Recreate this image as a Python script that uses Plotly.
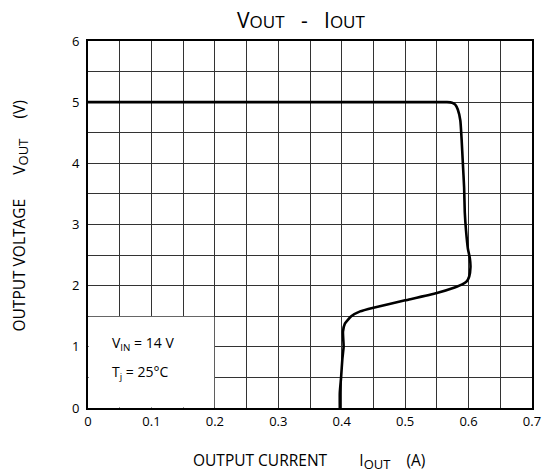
import plotly.graph_objects as go

# Curve data
iout = [0.0, 0.30, 0.55, 0.566, 0.574, 0.579, 0.583, 0.587, 0.589, 0.591, 0.593, 0.594, 0.596,
        0.599, 0.602, 0.603, 0.601, 0.597, 0.590, 0.578, 0.55, 0.50, 0.45, 0.429, 0.415,
        0.405, 0.402, 0.403, 0.401, 0.399, 0.397, 0.397]
vout = [5.0, 5.0, 5.0, 5.0, 4.99, 4.96, 4.88, 4.7, 4.4, 4.0, 3.6, 3.2, 2.9,
        2.6, 2.45, 2.3, 2.15, 2.07, 2.02, 1.97, 1.88, 1.76, 1.64, 1.58, 1.5,
        1.38, 1.25, 1.0, 0.8, 0.5, 0.25, 0.0]

x_ticks = [0, 0.1, 0.2, 0.3, 0.4, 0.5, 0.6, 0.7]
x_labels = ["0", "0.1", "0.2", "0.3", "0.4", "0.5", "0.6", "0.7"]
y_ticks = [0, 1, 2, 3, 4, 5, 6]

FONT = "Open Sans"
SUB = "<sub><span style='font-size:13px'>OUT</span></sub>"
SP = "\u00a0"

fig = go.Figure()
fig.add_trace(go.Scatter(x=iout, y=vout, mode="lines",
                         line=dict(color="black", width=2.6, shape="spline", smoothing=0.45),
                         showlegend=False, hoverinfo="skip"))

grid_col = "#333333"
fig.update_xaxes(range=[0, 0.7], tickvals=x_ticks, ticktext=x_labels,
                 showgrid=True, gridcolor=grid_col, gridwidth=1,
                 minor=dict(dtick=0.05, showgrid=True, gridcolor=grid_col, gridwidth=1),
                 showline=True, linecolor="black", linewidth=2, mirror=True,
                 ticks="", zeroline=False, automargin=False,
                 tickfont=dict(family=FONT, size=13, color="black"))
fig.update_yaxes(range=[0, 6], tickvals=y_ticks,
                 showgrid=True, gridcolor=grid_col, gridwidth=1,
                 minor=dict(dtick=0.5, showgrid=True, gridcolor=grid_col, gridwidth=1),
                 showline=True, linecolor="black", linewidth=2, mirror=True,
                 ticks="", zeroline=False, ticklabelstandoff=4, automargin=False,
                 tickfont=dict(family=FONT, size=13, color="black"))

fig.add_shape(type="rect", x0=0.001, x1=0.199, y0=0.01, y1=1.49,
              fillcolor="white", line=dict(width=0), layer="between")

fig.add_annotation(x=0.035, y=1.06, xanchor="left", yanchor="middle", showarrow=False,
                   text="V<sub>IN</sub> = 14 V", font=dict(family=FONT, size=14, color="black"))
fig.add_annotation(x=0.035, y=0.58, xanchor="left", yanchor="middle", showarrow=False,
                   text="T<sub>j</sub> = 25°C", font=dict(family=FONT, size=14, color="black"))

# chart title
fig.add_annotation(xref="paper", yref="paper", x=0.48, y=1.057, xanchor="center", yanchor="middle",
                   showarrow=False,
                   text="V<span style='font-size:17px'>OUT</span>" + SP * 3 + "-" + SP * 3
                        + "I<span style='font-size:17px'>OUT</span>",
                   font=dict(family=FONT, size=21, color="black"))

# x axis title
fig.add_annotation(xref="paper", yref="paper", x=0.498, y=-0.144, xanchor="center", yanchor="middle",
                   showarrow=False,
                   text="OUTPUT CURRENT" + SP * 8 + "I" + SUB + SP * 4 + "(A)",
                   font=dict(family=FONT, size=15.5, color="black"))

# y axis title
fig.add_annotation(xref="paper", yref="paper", x=-0.153, y=0.522, xanchor="center", yanchor="middle",
                   showarrow=False, textangle=-90,
                   text="OUTPUT VOLTAGE" + SP * 6 + "V" + SUB + SP * 5 + "(V)",
                   font=dict(family=FONT, size=15.5, color="black"))

fig.update_layout(
    width=543, height=472,
    margin=dict(l=88, r=11, t=41, b=64),
    paper_bgcolor="white", plot_bgcolor="white",
)

fig.write_html("out.html", config={"displayModeBar": False},
               post_script="document.body.style.margin='0';")
